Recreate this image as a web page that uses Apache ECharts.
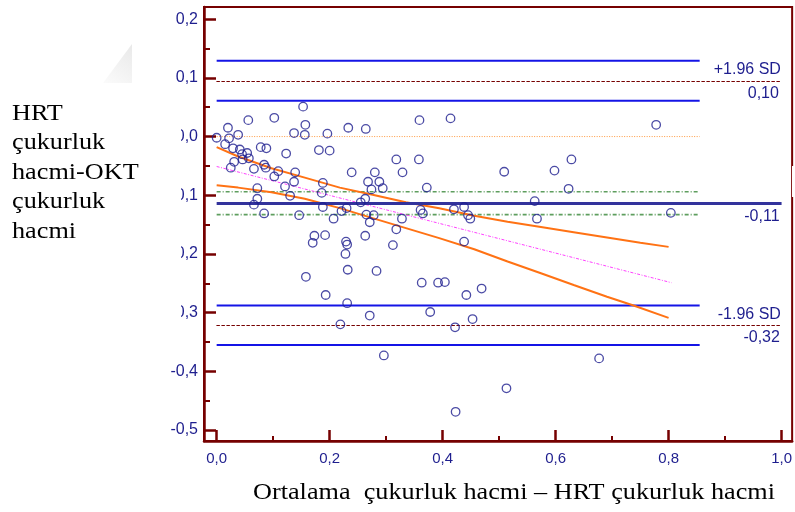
<!DOCTYPE html>
<html><head><meta charset="utf-8">
<script src="https://cdn.jsdelivr.net/npm/echarts@6/dist/echarts.min.js"></script>
<style>html,body{margin:0;padding:0;background:#fff}#c{width:795px;height:512px}</style>
</head><body><div id="c"></div>
<script>
// Averages (x) and differences (y) of the measurements
const meanValues = [0.000,0.015,0.020,0.022,0.038,0.029,0.041,0.045,0.054,0.057,0.046,0.031,0.025,0.056,0.078,0.088,0.066,0.084,0.087,0.102,
  0.123,0.137,0.157,0.156,0.153,0.102,0.109,0.121,0.130,0.137,0.139,0.072,0.072,0.066,0.084,0.146,0.181,0.200,0.196,0.188,
  0.186,0.188,0.207,0.221,0.230,0.233,0.239,0.264,0.268,0.274,0.280,0.288,0.294,0.255,0.263,0.265,0.278,0.271,0.318,0.329,
  0.318,0.328,0.358,0.359,0.361,0.365,0.414,0.372,0.420,0.438,0.445,0.449,0.778,0.509,0.598,0.628,0.623,0.563,0.567,0.804,
  0.469,0.677,0.513,0.229,0.231,0.263,0.312,0.438,0.228,0.232,0.283,0.363,0.392,0.404,0.442,0.231,0.271,0.378,0.453,0.219,
  0.422,0.296,0.423,0.173,0.192,0.170,0.158,0.193];
const diffValues = [-0.002,-0.013,0.015,-0.003,0.003,-0.020,-0.022,-0.030,-0.028,-0.037,-0.039,-0.043,-0.053,0.028,-0.018,-0.020,-0.055,-0.048,-0.053,0.032,
  -0.029,0.006,0.020,0.003,0.051,-0.068,-0.059,-0.085,-0.101,-0.077,-0.061,-0.088,-0.106,-0.116,-0.131,-0.134,-0.023,-0.024,0.005,-0.079,
  -0.096,-0.120,-0.140,-0.127,-0.122,0.015,-0.061,0.013,-0.077,-0.090,-0.061,-0.077,-0.088,-0.112,-0.106,-0.133,-0.134,-0.146,-0.039,-0.061,
  -0.158,-0.140,-0.039,0.028,-0.125,-0.131,0.031,-0.087,-0.124,-0.120,-0.134,-0.140,0.020,-0.060,-0.058,-0.039,-0.089,-0.110,-0.140,-0.130,
  -0.259,-0.378,-0.429,-0.179,-0.184,-0.169,-0.185,-0.179,-0.200,-0.227,-0.229,-0.249,-0.249,-0.248,-0.270,-0.284,-0.305,-0.299,-0.311,-0.320,
  -0.325,-0.373,-0.469,-0.169,-0.168,-0.181,-0.239,-0.270];

// Reference levels
const meanDiff = -0.113;
const meanDiffCI = [-0.094, -0.133];
const upperLoA = 0.095;
const upperLoACI = [0.129, 0.061];
const lowerLoA = -0.322;
const lowerLoACI = [-0.288, -0.355];
const zeroLevel = 0;
const ciLineEndX = 0.855;
const loaLineEndX = 0.997;
const meanLineEndX = 1.0;

// Regression line and its confidence band
const regX = [0, 0.805];
const regY = [-0.051, -0.249];
const bandX = [0.0,0.038,0.097,0.156,0.218,0.276,0.335,0.394,0.456,0.515,0.574,0.632,0.691,0.750,0.800];
const bandUpper = [-0.018,-0.034,-0.054,-0.070,-0.087,-0.099,-0.112,-0.122,-0.135,-0.145,-0.154,-0.163,-0.172,-0.181,-0.188];
const bandLowerX = [0.0,0.038,0.097,0.156,0.218,0.276,0.335,0.394,0.456,0.515,0.574,0.632,0.691,0.738,0.800];
const bandLower = [-0.083,-0.087,-0.095,-0.106,-0.122,-0.139,-0.156,-0.173,-0.192,-0.213,-0.233,-0.253,-0.273,-0.288,-0.309];

// Ticks and labels
const xMajorTicks = [0, 0.2, 0.4, 0.6, 0.8, 1.0];
const xMinorTicks = [0.1, 0.3, 0.5, 0.7, 0.9];
const yMajorTicks = [-0.5, -0.4, -0.3, -0.2, -0.1, 0, 0.1, 0.2];
const yMinorTicks = [-0.45, -0.35, -0.25, -0.15, -0.05, 0.05, 0.15];
const loaLabels = ['+1.96 SD', '0,10', '-0,11', '-1.96 SD', '-0,32'];
const xTitle = 'Ortalama  çukurluk hacmi – HRT çukurluk hacmi';
const yTitle = 'HRT\nçukurluk\nhacmi-OKT\nçukurluk\nhacmi';

const MAROON = '#760000';
const NAVY = '#1e1e8e';
const BLUE = '#1414e6';
const fmt = v => (Math.abs(v) < 1e-9 ? 0 : v).toFixed(1).replace('.', ',');

function hline(y, x1, color, width, type) {
  return { type: 'line', data: [[0, y], [x1, y]], symbol: 'none', silent: true, animation: false,
    lineStyle: { color: color, width: width, type: type }, z: 2 };
}
function mlItem(y, x1, text, pos, dist, style) {
  return [{ coord: [0, y], lineStyle: style,
      label: { show: true, formatter: text, position: pos, distance: dist, offset: [4, 0], color: NAVY,
        fontSize: 16, fontFamily: 'Liberation Sans' } },
    { coord: [x1, y] }];
}

const chart = echarts.init(document.getElementById('c'), null, { renderer: 'canvas' });
const dashMaroon = { color: MAROON, width: 1, type: [3, 2] };
chart.setOption({
  animation: false,
  grid: { left: 204, right: 1, top: 7, bottom: 71, show: true, borderColor: MAROON, borderWidth: 2 },
  xAxis: [
    { type: 'value', min: -0.0224, max: 1.0187, splitLine: { show: false },
      axisLine: { show: true, onZero: false, lineStyle: { color: MAROON, width: 2.5 } },
      axisTick: { show: true, inside: true, length: 11, customValues: xMajorTicks, lineStyle: { color: MAROON, width: 2.5 } },
      axisLabel: { customValues: xMajorTicks, formatter: fmt, color: NAVY, fontSize: 15, fontFamily: 'Liberation Sans', margin: 10 } },
    { type: 'value', min: -0.0224, max: 1.0187, position: 'bottom', splitLine: { show: false },
      axisLine: { show: false, onZero: false },
      axisTick: { show: true, inside: true, length: 5, customValues: xMinorTicks, lineStyle: { color: MAROON, width: 2 } },
      axisLabel: { show: false } }
  ],
  yAxis: [
    { type: 'value', min: -0.5188, max: 0.2208, splitLine: { show: false },
      axisLine: { show: true, onZero: false, lineStyle: { color: MAROON, width: 2.5 } },
      axisTick: { show: true, inside: true, length: 12, customValues: yMajorTicks, lineStyle: { color: MAROON, width: 2.5 } },
      axisLabel: { customValues: yMajorTicks, formatter: fmt, color: NAVY, fontSize: 16, fontFamily: 'Liberation Sans', margin: 6 } },
    { type: 'value', min: -0.5188, max: 0.2208, position: 'left', splitLine: { show: false },
      axisLine: { show: false, onZero: false },
      axisTick: { show: true, inside: true, length: 6, customValues: yMinorTicks, lineStyle: { color: MAROON, width: 2 } },
      axisLabel: { show: false } }
  ],
  series: [
    hline(zeroLevel, ciLineEndX, '#ff9a40', 1, [1, 1.5]),
    hline(upperLoACI[0], ciLineEndX, BLUE, 2, 'solid'),
    hline(upperLoACI[1], ciLineEndX, BLUE, 2, 'solid'),
    hline(lowerLoACI[0], ciLineEndX, BLUE, 2, 'solid'),
    hline(lowerLoACI[1], ciLineEndX, BLUE, 2, 'solid'),
    hline(meanDiffCI[0], ciLineEndX, '#5e9e5e', 1.6, [4, 2, 1, 2]),
    hline(meanDiffCI[1], ciLineEndX, '#5e9e5e', 1.6, [4, 2, 1, 2]),
    { type: 'line', data: regX.map((x, i) => [x, regY[i]]), symbol: 'none', silent: true, z: 3,
      lineStyle: { color: '#ff40ff', width: 1, type: [3, 1.5, 1, 1.5] } },
    { type: 'line', data: bandX.map((x, i) => [x, bandUpper[i]]), symbol: 'none', silent: true, z: 3,
      lineStyle: { color: '#ff7214', width: 2 } },
    { type: 'line', data: bandLowerX.map((x, i) => [x, bandLower[i]]), symbol: 'none', silent: true, z: 3,
      lineStyle: { color: '#ff7214', width: 2 } },
    { type: 'line', data: [], symbol: 'none', silent: true, z: 3,
      markLine: { silent: true, symbol: ['none', 'none'], animation: false,
        data: [
          mlItem(upperLoA, loaLineEndX, loaLabels[0], 'insideEndTop', 3, dashMaroon),
          mlItem(upperLoA, loaLineEndX, loaLabels[1], 'insideEndBottom', 5, dashMaroon),
          mlItem(meanDiff, meanLineEndX, loaLabels[2], 'insideEndBottom', 6, { color: '#33339c', width: 3, type: 'solid' }),
          mlItem(lowerLoA, loaLineEndX, loaLabels[3], 'insideEndTop', 3, dashMaroon),
          mlItem(lowerLoA, loaLineEndX, loaLabels[4], 'insideEndBottom', 4, dashMaroon)
        ] } },
    { type: 'scatter', data: meanValues.map((x, i) => [x, diffValues[i]]), symbol: 'circle', symbolSize: 8.5, z: 5,
      itemStyle: { color: 'rgba(0,0,0,0)', borderColor: NAVY, borderWidth: 1.3 } }
  ],
  graphic: [
    { type: 'rect', z: 50, shape: { x: 0, y: 88, width: 181, height: 240 }, style: { fill: '#fff' } },
    { type: 'rect', z: 50, shape: { x: 792, y: 166, width: 4, height: 31 }, style: { fill: '#fff' } },
    { type: 'polygon', z: 51, shape: { points: [[103, 83], [132, 44], [132, 83]] },
      style: { fill: new echarts.graphic.LinearGradient(0, 1, 1, 0, [{ offset: 0, color: '#fbfbfb' }, { offset: 1, color: '#e9e9e9' }]) } },
    { type: 'text', z: 60, x: 12, y: 99, scaleX: 1.14,
      style: { text: yTitle, fontSize: 23, lineHeight: 29.5, fontFamily: 'Liberation Serif', fill: '#000' } },
    { type: 'text', z: 60, x: 514, y: 493, scaleX: 1.14,
      style: { text: xTitle, fontSize: 23, fontFamily: 'Liberation Serif', fill: '#000', align: 'center', verticalAlign: 'middle' } }
  ]
});
</script>
</body></html>
